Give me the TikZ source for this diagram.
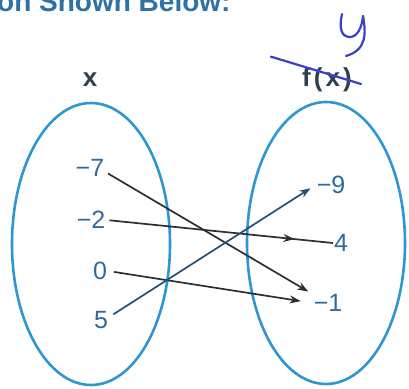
\documentclass[tikz,border=0pt]{standalone}
\usepackage{fontspec}
\setmainfont{Liberation Sans}
\usepackage{tikz}
\usetikzlibrary{positioning, arrows.meta, shapes.geometric, decorations.markings}
\definecolor{ovalblue}{HTML}{2E96D3}
\definecolor{numblue}{HTML}{2F6A9C}
\definecolor{inkblue}{HTML}{3B3FC9}
\definecolor{arrowgray}{HTML}{2E2E2E}

\begin{document}
\begin{tikzpicture}[
    x=1pt, y=1pt,
    oval/.style={ellipse, draw=ovalblue, line width=2.6pt,
                 minimum width=158pt, minimum height=282pt, inner sep=0pt},
    num/.style={text=numblue, font=\fontsize{25}{27}\selectfont, inner sep=1pt},
    head/.style={text=arrowgray!70!numblue, font=\bfseries\fontsize{26}{28}\selectfont, inner sep=1pt},
    arr/.style={-{Stealth[length=11pt, width=8pt]}, line width=1.7pt, draw=arrowgray},
    midarr/.style={line width=1.7pt, draw=arrowgray, postaction={decorate},
                   decoration={markings, mark=at position 0.83 with {\arrow{Stealth[length=11pt, width=8pt]}}}},
    pen/.style={draw=inkblue, line width=2.2pt, line cap=round, line join=round},
]
\useasboundingbox (0,0) rectangle (409,388);

% Heading, cut at the top edge
\begin{scope}
  \clip (0,0) rectangle (409,388);
  \node[anchor=base west, inner sep=0pt, text=numblue!85!ovalblue,
        font=\bfseries\fontsize{28}{30}\selectfont] (title) at (-3,376) {on Shown Below:};
\end{scope}

% Domain and range
\node[oval] (dom) at (91,144) {};
\node[oval] (rng) at (326,145) {};
\node[head] (xlab) at (90,308) {x};
\node[head] (fxlab) at (327,308) {\addfontfeature{LetterSpace=12}f(x)};

% Inputs
\node[num] (n7) at (90,220) {−7};
\node[num] (n2) at (91,168) {−2};
\node[num] (n0) at (100,117) {0};
\node[num] (n5) at (101,68) {5};

% Outputs
\node[num] (m9) at (331,203) {−9};
\node[num] (m4) at (341,145) {4};
\node[num] (m1) at (328,85) {−1};

% Arrows
\draw[arr, shorten <=3pt, shorten >=5pt] ([yshift=-4pt]n7.east) -- (m1.150);
\draw[midarr, shorten <=3pt] (n2.east) -- (m4.west);
\draw[arr, shorten <=6pt, shorten >=12pt] (n0.east) -- (m1.west);
\draw[arr, draw=numblue!75!black, shorten <=5pt, shorten >=6pt] (n5.20) -- (m9.west);

% Pen marks
\draw[pen] (342,374) .. controls (339,360) and (341,351) .. (350,351)
           .. controls (357,351) and (362,360) .. (363,372);
\draw[pen] (363,372) .. controls (366,355) and (367,338) .. (346,332);
\draw[pen] ([xshift=-30pt, yshift=10pt]fxlab.north west) -- ([xshift=8pt, yshift=-4pt]fxlab.east);
\end{tikzpicture}
\end{document}
